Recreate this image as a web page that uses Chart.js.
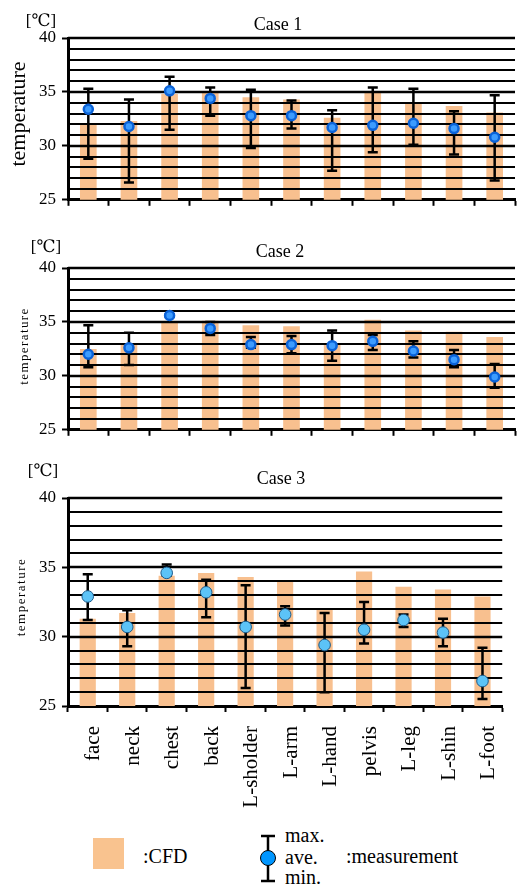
<!DOCTYPE html>
<html>
<head>
<meta charset="utf-8">
<script src="https://cdn.jsdelivr.net/npm/chart.js@4.4.1/dist/chart.umd.min.js"></script>
<style>
  body { margin: 0; background: #fff; }
  #page { position: relative; width: 522px; height: 888px; overflow: hidden; font-family: "Liberation Serif", "DejaVu Serif", serif; color: #000; }
  .box { position: absolute; left: 0; width: 522px; }
  .t { position: absolute; white-space: nowrap; line-height: 1; transform: translate(-50%, -50%); }
  .l { position: absolute; white-space: nowrap; line-height: 1; transform: translateY(-50%); font-size: 20px; }
  .rot { transform: translate(-50%, -50%) rotate(-90deg); }
</style>
</head>
<body>
<div id="page">
  <div class="box" style="top:0;height:216px"><canvas id="c1"></canvas></div>
  <div class="box" style="top:230px;height:216px"><canvas id="c2"></canvas></div>
  <div class="box" style="top:460px;height:360px"><canvas id="c3"></canvas></div>

  <div class="t" style="left:41px;top:20px;font-size:17px">[℃]</div>
  <div class="t" style="left:278px;top:24px;font-size:18px">Case 1</div>
  <div class="t rot" style="left:18px;top:114px;font-size:22px">temperature</div>

  <div class="t" style="left:46px;top:246px;font-size:17px">[℃]</div>
  <div class="t" style="left:280px;top:251px;font-size:18px">Case 2</div>
  <div class="t rot" style="left:23px;top:346px;font-size:13px;letter-spacing:1.4px">temperature</div>

  <div class="t" style="left:43px;top:470px;font-size:17px">[℃]</div>
  <div class="t" style="left:281px;top:478px;font-size:18px">Case 3</div>
  <div class="t rot" style="left:20px;top:597px;font-size:13px;letter-spacing:1.5px">temperature</div>

  <div style="position:absolute;left:93px;top:838px;width:31px;height:31px;background:#f9c38f"></div>
  <div class="l" style="left:143px;top:856px">:CFD</div>
  <svg style="position:absolute;left:258px;top:834px" width="20" height="50">
    <line x1="10" y1="2" x2="10" y2="47" stroke="#000" stroke-width="2.5"/>
    <line x1="3" y1="2" x2="17" y2="2" stroke="#000" stroke-width="2.5"/>
    <line x1="3" y1="47" x2="17" y2="47" stroke="#000" stroke-width="2.5"/>
    <circle cx="10" cy="24" r="7.5" fill="#0096ff" stroke="#000" stroke-width="1"/>
  </svg>
  <div class="l" style="left:285px;top:835px">max.</div>
  <div class="l" style="left:285px;top:857px">ave.</div>
  <div class="l" style="left:285px;top:877px">min.</div>
  <div class="l" style="left:346px;top:856px">:measurement</div>
</div>

<script>
const cats = ['face', 'neck', 'chest', 'back', 'L-sholder', 'L-arm', 'L-hand', 'pelvis', 'L-leg', 'L-shin', 'L-foot'];
const yLabels = [25, 30, 35, 40];

// Case 1
const cfd1 = [32.1, 32.3, 34.8, 34.9, 34.5, 34.3, 32.6, 35.0, 33.9, 33.7, 33.1];
const ave1 = [33.4, 31.8, 35.1, 34.4, 32.8, 32.8, 31.7, 31.9, 32.1, 31.6, 30.8];
const max1 = [35.3, 34.3, 36.4, 35.4, 35.2, 34.2, 33.3, 35.4, 35.3, 33.2, 34.7];
const min1 = [28.8, 26.6, 31.5, 32.8, 29.8, 31.6, 27.7, 29.4, 30.1, 29.2, 26.8];

// Case 2
const cfd2 = [32.5, 32.9, 35.0, 35.1, 34.7, 34.6, 33.0, 35.2, 34.2, 34.1, 33.6];
const ave2 = [32.0, 32.6, 35.6, 34.4, 32.9, 32.9, 32.8, 33.2, 32.3, 31.5, 29.9];
const max2 = [34.7, 34.0, 35.7, 35.0, 33.6, 33.7, 34.2, 33.8, 33.2, 32.4, 31.1];
const min2 = [30.8, 31.0, 35.5, 33.8, 32.6, 32.1, 31.4, 32.4, 31.7, 30.8, 28.9];

// Case 3
const cfd3 = [31.3, 31.7, 34.4, 34.6, 34.3, 34.0, 32.0, 34.7, 33.6, 33.4, 32.9];
const ave3 = [32.9, 30.7, 34.6, 33.2, 30.7, 31.6, 29.4, 30.5, 31.2, 30.3, 26.8];
const max3 = [34.5, 31.9, 35.2, 34.1, 33.7, 32.2, 31.7, 32.5, 31.6, 31.3, 29.2];
const min3 = [31.2, 29.3, 34.4, 31.4, 26.3, 30.8, 26.0, 29.5, 30.7, 29.3, 25.5];

const serif = 'Liberation Serif';

// grid over the bars, error bars under the points
const overlay = {
  id: 'overlay',
  afterDatasetDraw(chart, args) {
    if (args.index !== 0) return;
    const ctx = chart.ctx, y = chart.scales.y, a = chart.chartArea;
    ctx.save();
    y.ticks.forEach(t => {
      if (t.value <= y.min) return;
      const py = Math.round(y.getPixelForValue(t.value));
      ctx.strokeStyle = '#000';
      ctx.lineWidth = yLabels.includes(t.value) ? 2.5 : 2;
      ctx.beginPath();
      ctx.moveTo(a.left, py);
      ctx.lineTo(a.right, py);
      ctx.stroke();
    });
    ctx.restore();
  },
  beforeDatasetDraw(chart, args, opts) {
    if (args.index !== 1) return;
    const ctx = chart.ctx, y = chart.scales.y;
    const meta = chart.getDatasetMeta(1);
    ctx.save();
    ctx.strokeStyle = '#000';
    ctx.lineWidth = 2.5;
    meta.data.forEach((pt, i) => {
      const px = pt.x;
      const top = y.getPixelForValue(opts.max[i]);
      const bot = y.getPixelForValue(opts.min[i]);
      ctx.beginPath();
      ctx.moveTo(px, top); ctx.lineTo(px, bot);
      ctx.moveTo(px - 5, top); ctx.lineTo(px + 5, top);
      ctx.moveTo(px - 5, bot); ctx.lineTo(px + 5, bot);
      ctx.stroke();
    });
    ctx.restore();
  }
};

function makeChart(id, cfd, ave, mx, mn, labels, pointStyle) {
  const xHeight = labels ? 114 : 12;
  new Chart(document.getElementById(id), {
    data: {
      labels: cats,
      datasets: [
        {
          type: 'bar',
          data: cfd,
          backgroundColor: '#f8c08f',
          borderWidth: 0,
          barPercentage: 0.41,
          categoryPercentage: 1,
          order: 2
        },
        Object.assign({
          type: 'line',
          data: ave,
          showLine: false,
          pointStyle: 'circle',
          order: 1
        }, pointStyle)
      ]
    },
    options: {
      responsive: true,
      maintainAspectRatio: false,
      animation: false,
      events: [],
      layout: { padding: { top: 38, right: 1, left: 0, bottom: 0 } },
      plugins: {
        legend: { display: false },
        tooltip: { enabled: false },
        overlay: { max: mx, min: mn }
      },
      scales: {
        x: {
          offset: true,
          grid: { offset: true, drawOnChartArea: false, tickLength: 6, tickWidth: 2, tickColor: '#000' },
          border: { color: '#000', width: 3 },
          ticks: {
            display: labels,
            autoSkip: false,
            minRotation: 90,
            maxRotation: 90,
            padding: 14,
            labelOffset: 6,
            color: '#000',
            font: { family: serif, size: 21 }
          },
          afterFit: s => { s.height = xHeight; }
        },
        y: {
          min: 25,
          max: 40,
          grid: {
            drawOnChartArea: false,
            tickLength: 6,
            tickWidth: 2,
            tickColor: c => yLabels.includes(c.tick.value) ? '#000' : 'rgba(0,0,0,0)'
          },
          border: { color: '#000', width: 3 },
          ticks: {
            stepSize: 1,
            autoSkip: false,
            padding: 6,
            color: '#000',
            font: { family: serif, size: 17 },
            callback: v => yLabels.includes(v) ? v : ''
          },
          afterFit: s => { s.width = 68; }
        }
      }
    },
    plugins: [overlay]
  });
}

const bluePt = { pointRadius: 4.5, pointBackgroundColor: '#3d9cff', pointBorderColor: '#0a62d8', pointBorderWidth: 2.5 };
const lightPt = { pointRadius: 5.8, pointBackgroundColor: '#5cc3f7', pointBorderColor: '#1d5a8a', pointBorderWidth: 1 };

makeChart('c1', cfd1, ave1, max1, min1, false, bluePt);
makeChart('c2', cfd2, ave2, max2, min2, false, bluePt);
makeChart('c3', cfd3, ave3, max3, min3, true, lightPt);
</script>
</body>
</html>
